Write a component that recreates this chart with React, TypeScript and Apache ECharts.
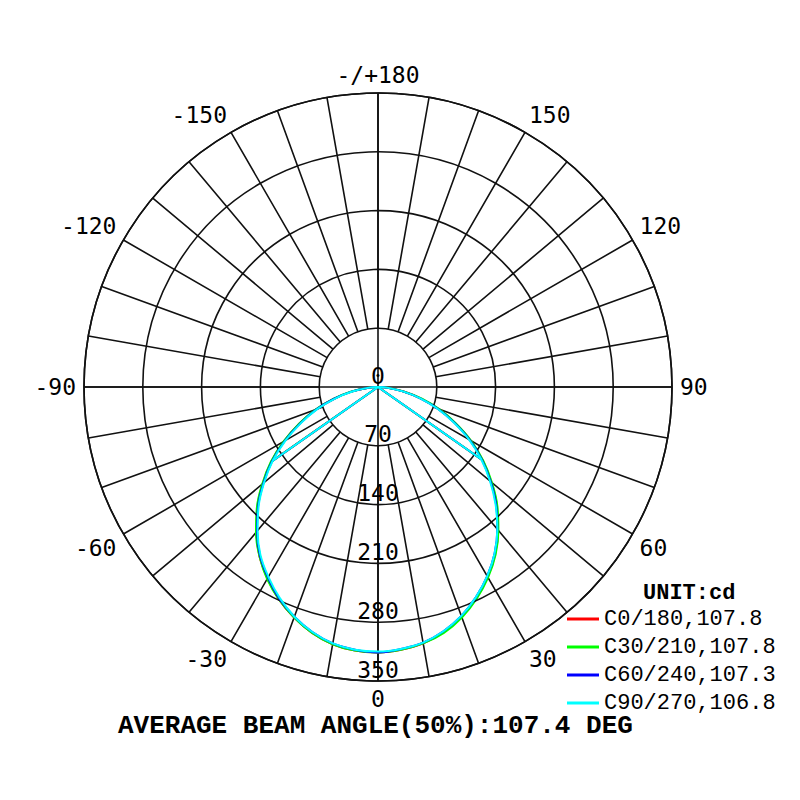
import { useRef, useEffect } from 'react'
import * as echarts from 'echarts'

// gamma angles, from -90 (left) through 0 (nadir) to 90 (right)
const GAMMA = [
  -90, -85, -80, -75, -70, -65, -60, -55, -50, -45, -40, -35, -30, -25, -20, -15, -10, -5, 0, 5, 10, 15, 20, 25,
  30, 35, 40, 45, 50, 55, 60, 65, 70, 75, 80, 85, 90,
]

// intensity in cd for each C plane, one value per gamma
const C0_180 = [
  0, 13, 32, 54, 79, 103, 129, 155, 179, 203, 225, 246, 263, 279, 292, 303, 311, 315, 316, 314, 310, 302, 291, 277,
  261, 243, 222, 200, 176, 152, 127, 101, 77, 53, 31, 13, 0,
]
const C30_210 = [
  0, 13, 33, 55, 80, 104, 130, 156, 180, 204, 226, 246, 264, 279, 292, 303, 311, 315, 316, 314, 310, 303, 292, 278,
  262, 244, 223, 201, 177, 153, 128, 102, 78, 54, 31, 13, 0,
]
const C60_240 = [
  0, 12, 32, 54, 78, 102, 128, 154, 178, 202, 224, 245, 262, 278, 291, 302, 310, 314, 316, 313, 309, 301, 290, 276,
  260, 242, 221, 199, 175, 151, 126, 100, 76, 52, 30, 12, 0,
]
const C90_270 = [
  0, 12, 31, 53, 77, 101, 127, 153, 177, 201, 223, 244, 261, 277, 291, 302, 310, 314, 315, 313, 309, 301, 290, 276,
  260, 242, 221, 198, 174, 150, 125, 99, 75, 52, 30, 12, 0,
]

// gammas where the plot draws a straight chord back to the centre
const CHORD_GAMMA = [-55, 55]

const SERIES_NAMES = ['C0/180,107.8', 'C30/210,107.8', 'C60/240,107.3', 'C90/270,106.8']
const SERIES_VALUES = [C0_180, C30_210, C60_240, C90_270]
const SERIES_COLORS = ['#ff0000', '#00ff00', '#0000ff', '#00ffff']

const RADIUS_MAX = 350
const RADIUS_STEP = 70

const CENTER = [378, 387]
const R = 294
const GRID = '#111111'
const SANS_MONO = '"DejaVu Sans Mono", monospace'
const COURIER = '"Liberation Mono", "Courier New", monospace'

const toAxisAngle = (g: number) => (g < 0 ? g + 360 : g)

function angleLabel(v: number): string {
  if (v % 30 !== 0 || v >= 360) return ''
  if (v === 180) return '-/+180'
  if (v > 180) return String(v - 360)
  return String(v)
}

function arcData(values: number[]): number[][] {
  return GAMMA.map((g, i) => [values[i], toAxisAngle(g)])
}

function chordData(values: number[]): number[][] {
  const [gl, gr] = CHORD_GAMMA
  return [
    [values[GAMMA.indexOf(gl)], toAxisAngle(gl)],
    [0, 0],
    [values[GAMMA.indexOf(gr)], toAxisAngle(gr)],
  ]
}

function buildOption(): echarts.EChartsOption {
  const gridLine = { color: GRID, width: 1.6 }
  const series: any[] = []
  SERIES_NAMES.forEach((name, i) => {
    const color = SERIES_COLORS[i]
    series.push({
      name,
      type: 'line',
      coordinateSystem: 'polar',
      polarIndex: 0,
      data: chordData(SERIES_VALUES[i]),
      symbol: 'none',
      lineStyle: { color, width: 2 },
      itemStyle: { color },
      z: 3 + i,
    })
    series.push({
      name,
      type: 'line',
      coordinateSystem: 'polar',
      polarIndex: 0,
      data: arcData(SERIES_VALUES[i]),
      symbol: 'none',
      smooth: 0.4,
      lineStyle: { color, width: 2 },
      itemStyle: { color },
      z: 3 + i,
    })
  })

  return {
    backgroundColor: '#ffffff',
    animation: false,
    title: [
      {
        text: 'UNIT:cd',
        left: 638,
        top: 577,
        textStyle: { fontFamily: COURIER, fontSize: 22, fontWeight: 'bold', color: '#000' },
      },
      {
        text: 'AVERAGE BEAM ANGLE(50%):107.4 DEG',
        left: 113,
        top: 710,
        textStyle: { fontFamily: COURIER, fontSize: 26, fontWeight: 'bold', color: '#000', lineHeight: 22 },
      },
    ],
    legend: {
      orient: 'vertical',
      left: 562,
      top: 603,
      itemWidth: 32,
      itemHeight: 3,
      itemGap: 6,
      icon: 'rect',
      selectedMode: false,
      textStyle: { fontFamily: COURIER, fontSize: 22, color: '#000', lineHeight: 22 },
      data: SERIES_NAMES,
    },
    polar: [
      { center: CENTER, radius: [0, R] },
      { center: CENTER, radius: [R / 5, R] },
    ],
    angleAxis: [
      {
        polarIndex: 0,
        type: 'value',
        min: 0,
        max: 360,
        interval: 90,
        startAngle: 270,
        clockwise: false,
        axisLine: { show: true, lineStyle: gridLine },
        axisTick: { show: false },
        axisLabel: { show: false },
        splitLine: { show: true, lineStyle: gridLine },
      },
      {
        polarIndex: 1,
        type: 'value',
        min: 0,
        max: 360,
        interval: 10,
        startAngle: 270,
        clockwise: false,
        axisLine: { show: false },
        axisTick: { show: false },
        axisLabel: {
          show: true,
          margin: 8,
          fontFamily: SANS_MONO,
          fontSize: 23,
          lineHeight: 20,
          color: '#000',
          formatter: (v: number) => angleLabel(v),
        },
        splitLine: { show: true, lineStyle: gridLine },
      },
    ],
    radiusAxis: [
      {
        polarIndex: 0,
        type: 'value',
        min: 0,
        max: RADIUS_MAX,
        interval: RADIUS_STEP,
        axisLine: { show: false },
        axisTick: { show: false },
        splitLine: { show: true, lineStyle: gridLine },
        axisLabel: {
          margin: 0,
          align: 'center',
          verticalAlign: 'bottom',
          fontFamily: SANS_MONO,
          fontSize: 23,
          color: '#000',
        },
        z: 5,
      },
      {
        polarIndex: 1,
        type: 'value',
        min: 0,
        max: RADIUS_MAX,
        show: false,
      },
    ],
    series,
  }
}

export default function App() {
  const ref = useRef<HTMLDivElement>(null)

  useEffect(() => {
    const el = ref.current
    if (!el) return
    const chart = echarts.init(el, null, { renderer: 'svg' })
    chart.setOption(buildOption())
    return () => chart.dispose()
  }, [])

  return (
    <div
      ref={ref}
      style={{ position: 'fixed', left: 0, top: 0, width: 800, height: 800, background: '#fff' }}
    />
  )
}
